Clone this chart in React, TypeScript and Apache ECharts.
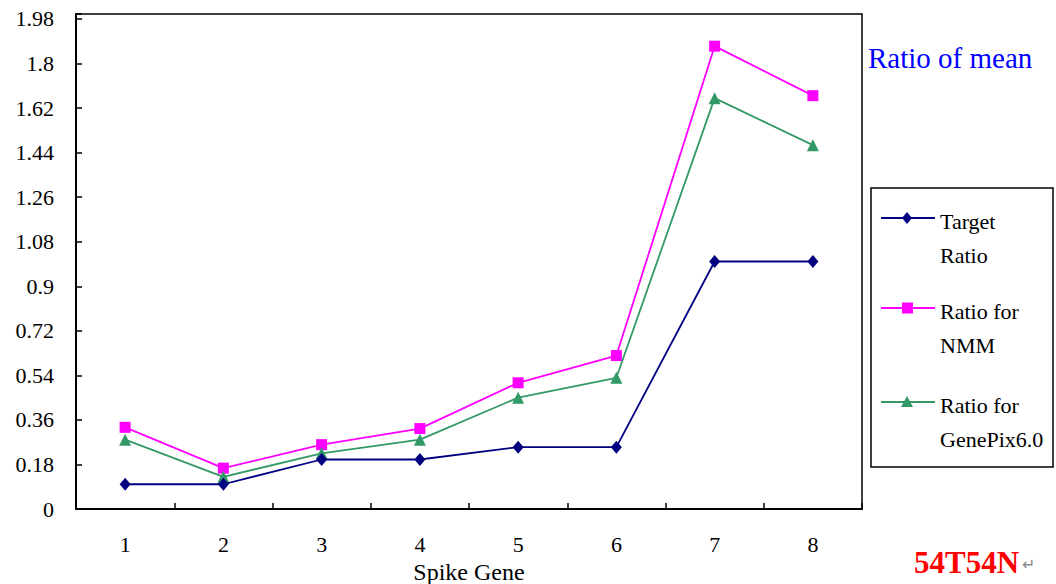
import React, { useEffect, useRef } from "react";
import * as echarts from "echarts";

const categories = ["1", "2", "3", "4", "5", "6", "7", "8"];
const targetRatio = [0.1, 0.1, 0.2, 0.2, 0.25, 0.25, 1.0, 1.0];
const nmmRatio = [0.33, 0.165, 0.26, 0.325, 0.51, 0.62, 1.87, 1.67];
const genePixRatio = [0.28, 0.13, 0.225, 0.28, 0.45, 0.53, 1.66, 1.47];
const seriesNames = ["Target\nRatio", "Ratio for\nNMM", "Ratio for\nGenePix6.0"];
const colors = ["#000080", "#FF00FF", "#339966"];
const yMin = 0;
const yMax = 2.0;
const yInterval = 0.18;

const FONT = "'Liberation Serif', 'Times New Roman', serif";

export default function App() {
  const ref = useRef<HTMLDivElement>(null);
  useEffect(() => {
    if (!ref.current) return;
    const chart = echarts.init(ref.current, null, { renderer: "svg" });
    const gLeft = 76, gTop = 14, gRight = 194, gBottom = 75;

    const legendX = 871, legendY = 188;
    const itemYs = [218, 308, 402];
    const legendItems: any[] = [];
    itemYs.forEach((y, i) => {
      legendItems.push({
        type: "line",
        shape: { x1: 881, y1: y, x2: 935, y2: y },
        style: { stroke: colors[i], lineWidth: 1.8 },
      });
      if (i === 0) {
        legendItems.push({
          type: "polygon",
          shape: { points: [[907, y - 6], [912, y], [907, y + 6], [902, y]] },
          style: { fill: colors[i] },
        });
      } else if (i === 1) {
        legendItems.push({
          type: "rect",
          shape: { x: 902, y: y - 5.5, width: 11, height: 11 },
          style: { fill: colors[i] },
        });
      } else {
        legendItems.push({
          type: "polygon",
          shape: { points: [[907, y - 6], [913, y + 5], [901, y + 5]] },
          style: { fill: colors[i] },
        });
      }
      legendItems.push({
        type: "text",
        x: 940,
        y: y - 14,
        style: {
          text: seriesNames[i],
          font: `22px ${FONT}`,
          fill: "#000",
          lineHeight: 34,
          textVerticalAlign: "top",
        },
      });
    });

    chart.setOption({
      animation: false,
      backgroundColor: "#fff",
      grid: {
        left: gLeft,
        top: gTop,
        right: gRight,
        bottom: gBottom,
        show: true,
        borderColor: "#000",
        borderWidth: 1.5,
        backgroundColor: "transparent",
        containLabel: false,
        outerBoundsMode: "none",
      },
      xAxis: {
        type: "category",
        data: categories,
        boundaryGap: true,
        name: "Spike Gene",
        nameLocation: "middle",
        nameGap: 45,
        nameTextStyle: { fontFamily: FONT, fontSize: 24, color: "#000", lineHeight: 24 },
        axisLine: { show: true, lineStyle: { color: "#000", width: 2 } },
        axisTick: { show: true, inside: true, length: 6, lineStyle: { color: "#000", width: 1.5 } },
        axisLabel: { fontFamily: FONT, fontSize: 22, color: "#000", margin: 24 },
        splitLine: { show: false },
      },
      yAxis: {
        type: "value",
        min: yMin,
        max: yMax,
        interval: yInterval,
        axisLine: { show: true, lineStyle: { color: "#000", width: 2 } },
        axisTick: { show: true, inside: true, length: 6, lineStyle: { color: "#000", width: 1.5 } },
        axisLabel: {
          fontFamily: FONT,
          fontSize: 22,
          color: "#000",
          margin: 22,
          formatter: (v: number) => (v > 1.99 ? "" : String(Math.round(v * 100) / 100)),
        },
        splitLine: { show: false },
      },
      series: [
        {
          name: seriesNames[0],
          type: "line",
          data: targetRatio,
          symbol: "diamond",
          symbolSize: [11, 13],
          lineStyle: { color: colors[0], width: 1.8 },
          itemStyle: { color: colors[0] },
          z: 4,
        },
        {
          name: seriesNames[1],
          type: "line",
          data: nmmRatio,
          symbol: "rect",
          symbolSize: 11,
          lineStyle: { color: colors[1], width: 1.8 },
          itemStyle: { color: colors[1] },
          z: 3,
        },
        {
          name: seriesNames[2],
          type: "line",
          data: genePixRatio,
          symbol: "triangle",
          symbolSize: [12, 12],
          lineStyle: { color: colors[2], width: 1.8 },
          itemStyle: { color: colors[2] },
          z: 3,
        },
      ],
      graphic: [
        {
          type: "rect",
          shape: { x: legendX, y: legendY, width: 182, height: 279 },
          style: { fill: "#fff", stroke: "#000", lineWidth: 1.5 },
        },
        ...legendItems,
        {
          type: "text",
          x: 868,
          y: 58,
          style: {
            text: "Ratio of mean",
            font: `29px ${FONT}`,
            fill: "#0000FF",
            textVerticalAlign: "middle",
          },
        },
        {
          type: "text",
          x: 914,
          y: 562,
          style: {
            text: "54T54N",
            font: `bold 31px ${FONT}`,
            fill: "#FF0000",
            textVerticalAlign: "middle",
          },
        },
        {
          type: "text",
          x: 1022,
          y: 564,
          style: {
            text: "↵",
            font: `16px 'DejaVu Sans', sans-serif`,
            fill: "#888",
            textVerticalAlign: "middle",
          },
        },
      ],
    });
    return () => chart.dispose();
  }, []);
  return (
    <div
      ref={ref}
      style={{ position: "fixed", left: 0, top: 0, width: 1056, height: 584, background: "#fff" }}
    />
  );
}
